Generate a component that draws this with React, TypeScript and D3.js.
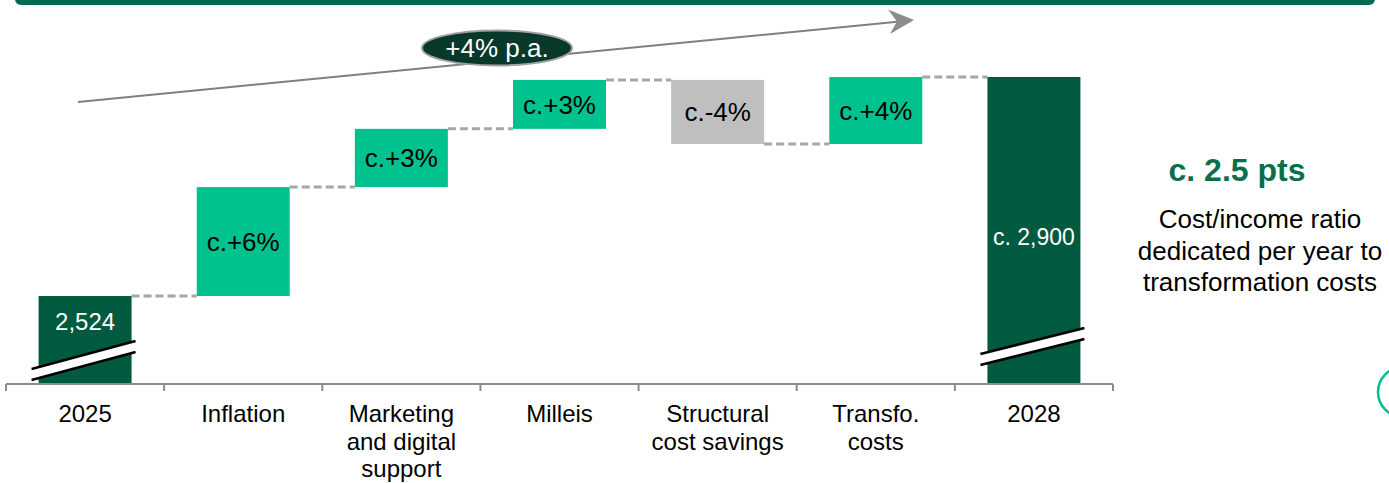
import React from "react";
import * as d3 from "d3";

// ---- data ----
const categories = ["2025", "Inflation", "Marketing", "Milleis", "Structural", "Transfo", "2028"];
const categoryLines: string[][] = [
  ["2025"],
  ["Inflation"],
  ["Marketing", "and digital", "support"],
  ["Milleis"],
  ["Structural", "cost savings"],
  ["Transfo.", "costs"],
  ["2028"],
];
const values = [2524, 187, 100, 84, -110, 115, 2900];
const kinds = ["total", "up", "up", "up", "down", "up", "total"];
const barLabels = ["2,524", "c.+6%", "c.+3%", "c.+3%", "c.-4%", "c.+4%", "c. 2,900"];
const trendLabel = "+4% p.a.";
const sideHeadline = "c. 2.5 pts";
const sideText = ["Cost/income ratio", "dedicated per year to", "transformation costs"];
const axisFloor = 2373; // value at the (broken) axis line

// ---- style ----
const W = 1389;
const H = 483;
const FONT = "'Liberation Sans', Arial, sans-serif";
const DARK = "#005A40";
const LIGHT = "#00C28E";
const GREY_BAR = "#BFBFBF";
const AXIS = "#8C8C8C";
const DASH = "#A6A6A6";

export default function App() {
  const x = d3
    .scaleBand<string>()
    .domain(categories)
    .range([6, 1113])
    .paddingInner(0.412)
    .paddingOuter(0.206);
  const y = d3.scaleLinear().domain([axisFloor, 2900]).range([384, 77]);
  const step = x.step();
  const bw = x.bandwidth();

  // compute waterfall segments
  let running = 0;
  const segs = values.map((v, i) => {
    let start: number, end: number;
    if (kinds[i] === "total") {
      start = axisFloor;
      end = v;
      running = v;
    } else {
      start = running;
      end = running + v;
      running = end;
    }
    return { cat: categories[i], start, end, kind: kinds[i], label: barLabels[i], i };
  });

  const color = (k: string) => (k === "total" ? DARK : k === "down" ? GREY_BAR : LIGHT);

  const axisY = y(axisFloor);
  const tickXs = d3.range(categories.length + 1).map((i) => 6 + i * step);

  // break marks (offsets above the axis: left-top, right-top) and gap
  const breaks = [
    { i: 0, lt: 15, rt: 43 },
    { i: 6, lt: 30, rt: 56 },
  ];
  const gap = 11;

  return (
    <svg
      width={W}
      height={H}
      style={{ position: "absolute", left: 0, top: 0, background: "#fff" }}
      fontFamily={FONT}
    >
      {/* top banner */}
      <rect x={15} y={-10} width={1360} height={15} rx={6} fill="#006A4E" />

      {/* trend arrow */}
      <line x1={78} y1={102} x2={900} y2={21.4} stroke="#808080" strokeWidth={2} />
      <path d="M914,20 L888,9.5 L897,21.6 L890,34 Z" fill="#8C8C8C" />
      <ellipse cx={497} cy={48} rx={75} ry={17.5} fill="#08382A" stroke="#A0A0A0" strokeWidth={2} />
      <text x={497} y={57} textAnchor="middle" fontSize={26} fill="#fff">
        {trendLabel}
      </text>

      {/* connectors */}
      {segs.slice(0, -1).map((s, i) => {
        const x1 = (x(s.cat) as number) + bw;
        const x2 = x(categories[i + 1]) as number;
        const yy = y(s.end);
        return (
          <line
            key={"c" + i}
            x1={x1}
            x2={x2}
            y1={yy}
            y2={yy}
            stroke={DASH}
            strokeWidth={3}
            strokeDasharray="8 4"
          />
        );
      })}

      {/* bars */}
      {segs.map((s) => {
        const top = y(Math.max(s.start, s.end));
        const bot = y(Math.min(s.start, s.end));
        return (
          <rect
            key={"b" + s.i}
            x={x(s.cat)}
            y={top}
            width={bw}
            height={bot - top}
            fill={color(s.kind)}
          />
        );
      })}

      {/* break marks */}
      {breaks.map((b) => {
        const x0 = (x(categories[b.i]) as number) - 7;
        const x1 = (x(categories[b.i]) as number) + bw + 4;
        const ylt = axisY - b.lt;
        const yrt = axisY - b.rt;
        return (
          <g key={"br" + b.i}>
            <polygon
              points={`${x0},${ylt} ${x1},${yrt} ${x1},${yrt + gap} ${x0},${ylt + gap}`}
              fill="#fff"
            />
            <line x1={x0} y1={ylt} x2={x1} y2={yrt} stroke="#000" strokeWidth={2.5} />
            <line x1={x0} y1={ylt + gap} x2={x1} y2={yrt + gap} stroke="#000" strokeWidth={2.5} />
          </g>
        );
      })}

      {/* bar labels */}
      {segs.map((s) => {
        const cx = (x(s.cat) as number) + bw / 2;
        const top = y(Math.max(s.start, s.end));
        const bot = y(Math.min(s.start, s.end));
        let by: number;
        let fs = 26;
        let fill = "#000";
        if (s.i === 0) {
          by = top + 34;
          fs = 24;
          fill = "#fff";
        } else if (s.kind === "total") {
          by = (top + bot) / 2 + 14;
          fs = 23;
          fill = "#fff";
        } else {
          by = (top + bot) / 2 + 9.5;
        }
        return (
          <text key={"l" + s.i} x={cx} y={by} textAnchor="middle" fontSize={fs} fill={fill}>
            {s.label}
          </text>
        );
      })}

      {/* axis */}
      <line x1={6} x2={1113} y1={axisY} y2={axisY} stroke={AXIS} strokeWidth={2} />
      {tickXs.map((tx, i) => (
        <line key={"t" + i} x1={tx} x2={tx} y1={axisY} y2={axisY + 7} stroke={AXIS} strokeWidth={2} />
      ))}

      {/* category labels */}
      {categoryLines.map((lines, i) => (
        <text
          key={"cat" + i}
          x={(x(categories[i]) as number) + bw / 2}
          y={422}
          textAnchor="middle"
          fontSize={24}
          fill="#000"
        >
          {lines.map((ln, j) => (
            <tspan key={j} x={(x(categories[i]) as number) + bw / 2} dy={j === 0 ? 0 : 27.5}>
              {ln}
            </tspan>
          ))}
        </text>
      ))}

      {/* side annotation */}
      <text x={1237} y={181} textAnchor="middle" fontSize={32} fontWeight="bold" fill="#0A6E4C">
        {sideHeadline}
      </text>
      <text x={1260} y={228} textAnchor="middle" fontSize={26} fill="#000">
        {sideText.map((ln, j) => (
          <tspan key={j} x={1260} dy={j === 0 ? 0 : 31.5}>
            {ln}
          </tspan>
        ))}
      </text>

      {/* partial circle at right edge */}
      <circle cx={1403} cy={392} r={25} fill="none" stroke="#00C08B" strokeWidth={2.5} />
    </svg>
  );
}
